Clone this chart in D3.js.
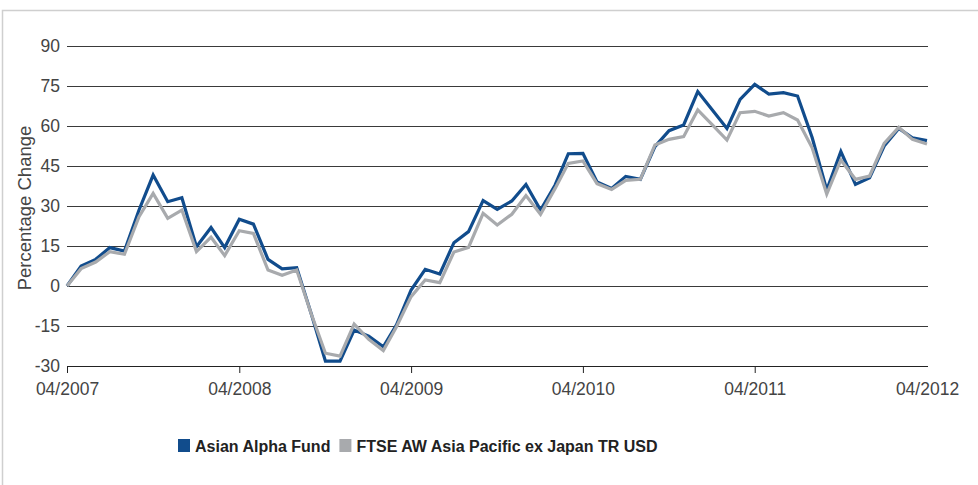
<!DOCTYPE html>
<html>
<head>
<meta charset="utf-8">
<script src="https://cdn.jsdelivr.net/npm/d3@7"></script>
<style>
  html, body { margin: 0; padding: 0; background: #fff; }
  svg { display: block; }
</style>
</head>
<body>
<svg id="chart" width="978" height="485"></svg>
<script>
// Cumulative monthly performance, 04/2007 – 04/2012 (percent)
const startMonth = new Date(2007, 3, 1);
const fundValues = [0, 7.5, 10, 14.4, 13.1, 28.5, 41.6, 31.6, 33.1, 14.7, 21.9, 14.4, 25,
  23.2, 10, 6.4, 6.9, -10.5, -28.2, -28.2, -16.5, -18.8, -22.8, -14.6, -1.5,
  6.25, 4.5, 16.25, 20.4, 32, 28.75, 31.9, 38.1, 28.5, 37.9, 49.6, 49.75,
  39, 36.6, 41.1, 40, 52.25, 58.25, 60.4, 72.9, 66, 59.1, 70, 75.6,
  72, 72.5, 71.25, 55.7, 36, 50.4, 38.1, 40.6, 52.5, 59.1, 55.6, 54.5];
const indexValues = [0, 6.5, 9, 12.9, 11.9, 26, 34.7, 25.4, 28.5, 12.9, 18.3, 11.4, 20.7,
  19.7, 6, 4, 6, -10.5, -25.2, -26.3, -14.3, -20, -24.2, -15.3, -4,
  2.25, 1.25, 12.75, 14.5, 27.25, 22.9, 26.9, 33.9, 26.9, 36.6, 46, 46.9,
  38.4, 36.2, 39.6, 40, 52.9, 55, 56, 66, 60.4, 54.75, 65, 65.5,
  63.75, 65, 62.25, 51.8, 34.5, 47.25, 40, 41.25, 53.5, 59.5, 55, 53.25];
const seriesNames = ["Asian Alpha Fund", "FTSE AW Asia Pacific ex Japan TR USD"];
const seriesColors = ["#114c8c", "#a8aaad"];
const yTicks = [-30, -15, 0, 15, 30, 45, 60, 75, 90];
const xTickLabels = ["04/2007", "04/2008", "04/2009", "04/2010", "04/2011", "04/2012"];
const yTitle = "Percentage Change";

const svg = d3.select("#chart");

// outer frame
svg.append("rect")
  .attr("x", 2.5).attr("y", 10.5)
  .attr("width", 1000).attr("height", 500)
  .attr("fill", "none").attr("stroke", "#cfcfcf").attr("stroke-width", 1.5);

const plot = { left: 67, right: 927, top: 46, bottom: 366 };

const x = d3.scaleTime()
  .domain([startMonth, d3.timeMonth.offset(startMonth, fundValues.length - 1)])
  .range([plot.left, plot.right]);
const y = d3.scaleLinear().domain([-30, 90]).range([plot.bottom, plot.top]);

const labelFont = "'Liberation Sans', Arial, Helvetica, sans-serif";
const labelSize = 17.5;

// horizontal gridlines + y labels (plain hyphen for negatives)
const yAxis = d3.axisLeft(y).tickValues(yTicks)
  .tickFormat(d => String(d))
  .tickSize(-(plot.right - plot.left + 1)).tickPadding(7);
const gy = svg.append("g").attr("transform", `translate(${plot.left},0)`).call(yAxis);
gy.select(".domain").remove();
gy.selectAll(".tick line").attr("stroke", "#3a3a3a").attr("stroke-width", 1);
gy.selectAll(".tick text")
  .attr("font-family", labelFont).attr("font-size", labelSize).attr("fill", "#444");

// x axis
const yearTicks = xTickLabels.map((_, i) => d3.timeYear.offset(startMonth, i));
const xAxis = d3.axisBottom(x).tickValues(yearTicks)
  .tickFormat((d, i) => xTickLabels[i]).tickSize(7).tickSizeOuter(0).tickPadding(10);
const gx = svg.append("g").attr("transform", `translate(0,${plot.bottom})`).call(xAxis);
gx.select(".domain").attr("stroke", "#222").attr("d", `M${plot.left},0.5H${plot.right + 1}`);
gx.selectAll(".tick line").attr("stroke", "#222");
gx.selectAll(".tick").filter((d, i) => i === xTickLabels.length - 1).select("line").remove();
gx.selectAll(".tick text")
  .attr("font-family", labelFont).attr("font-size", labelSize).attr("fill", "#444");

// y title
svg.append("text")
  .attr("transform", `translate(31,${(plot.top + plot.bottom) / 2 + 2}) rotate(-90)`)
  .attr("text-anchor", "middle")
  .attr("font-family", labelFont).attr("font-size", 18.5).attr("fill", "#444")
  .text(yTitle);

// series lines
const line = d3.line()
  .x((d, i) => x(d3.timeMonth.offset(startMonth, i)))
  .y(d => y(d));

[fundValues, indexValues].forEach((vals, k) => {
  svg.append("path")
    .datum(vals)
    .attr("d", line)
    .attr("fill", "none")
    .attr("stroke", seriesColors[k])
    .attr("stroke-width", 3.2)
    .attr("stroke-linejoin", "miter");
});

// legend
const legend = svg.append("g").attr("transform", "translate(178,446)");
let lx = 0;
seriesNames.forEach((name, k) => {
  legend.append("rect")
    .attr("x", lx).attr("y", -7).attr("width", 12).attr("height", 13)
    .attr("fill", seriesColors[k]);
  const t = legend.append("text")
    .attr("x", lx + 17).attr("y", 6)
    .attr("font-family", labelFont).attr("font-size", 16).attr("font-weight", "bold")
    .attr("fill", "#222")
    .text(name);
  lx += 17 + t.node().getComputedTextLength() + 9;
});
</script>
</body>
</html>
